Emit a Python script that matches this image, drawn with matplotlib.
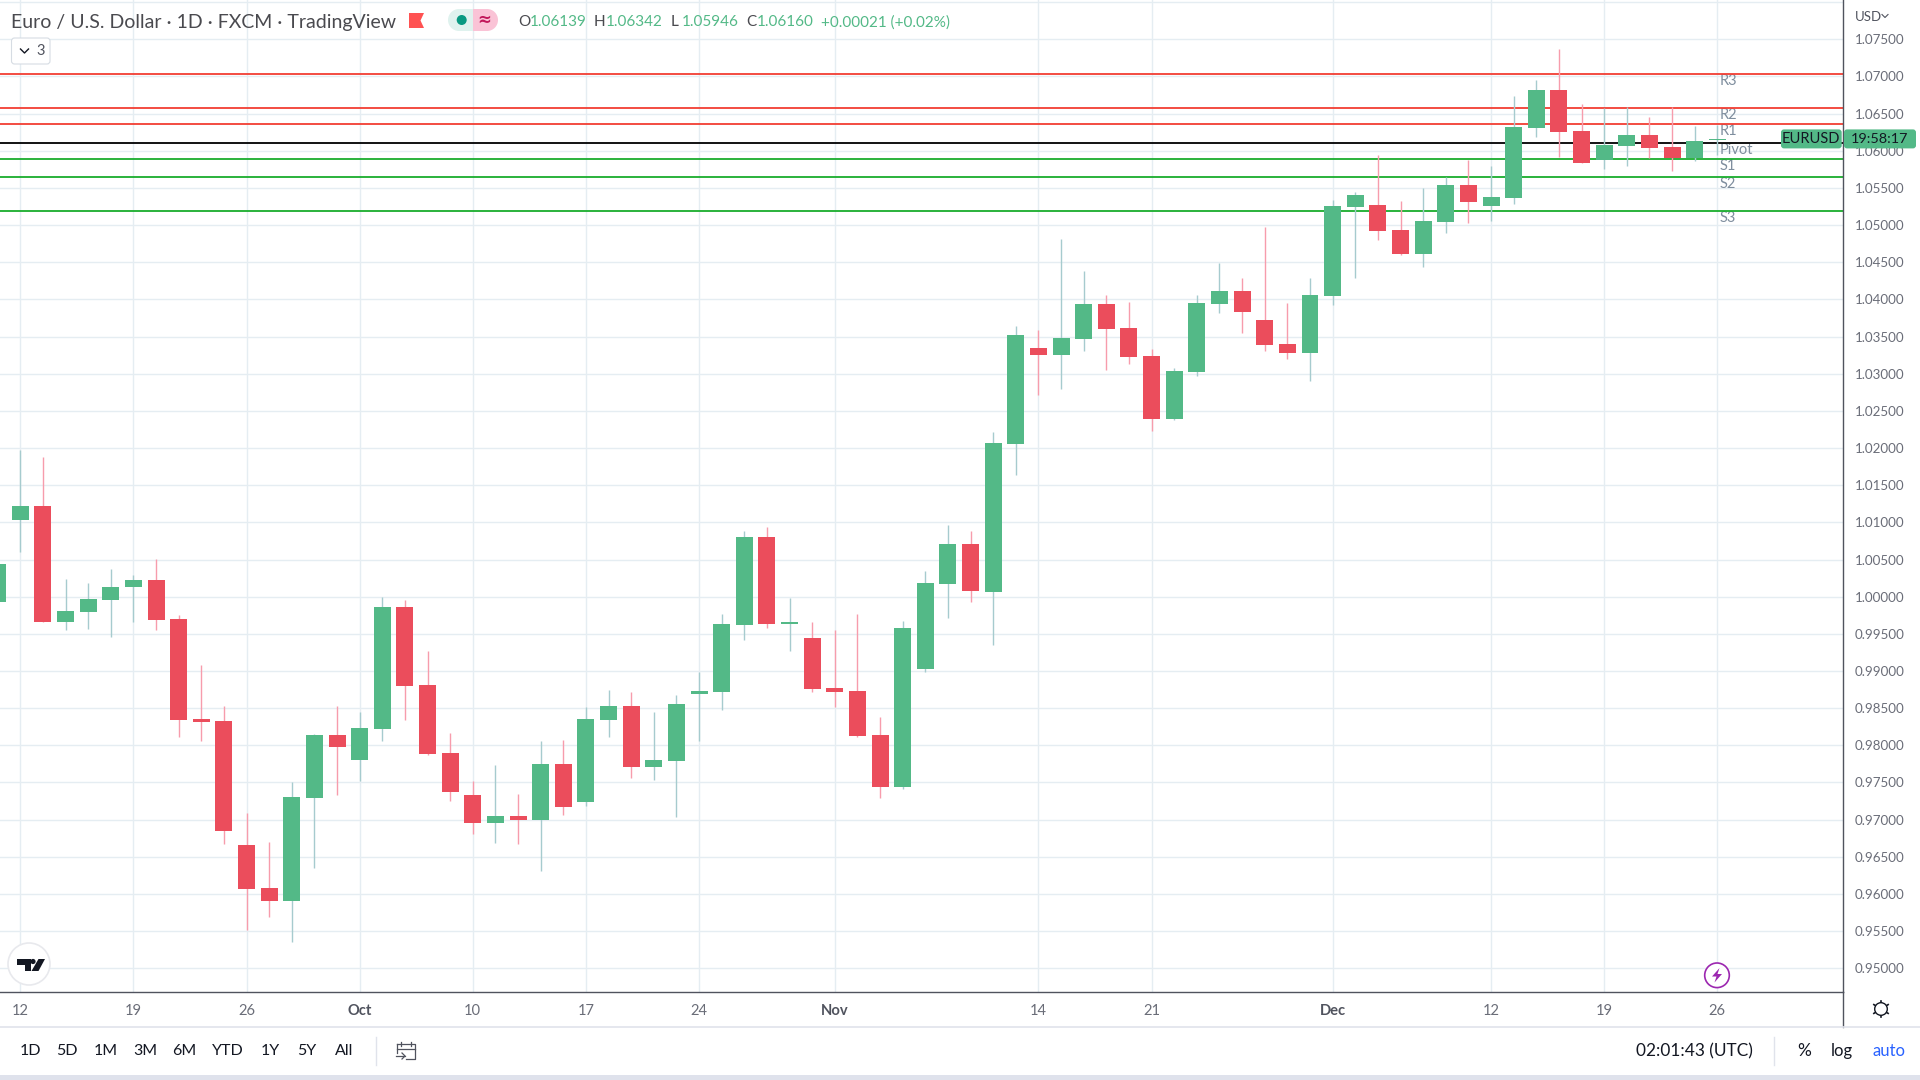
import matplotlib
matplotlib.use("Agg")
import matplotlib.pyplot as plt
from matplotlib.patches import Circle, FancyBboxPatch, Polygon, Rectangle

plt.rcParams['font.family'] = ['Lato', 'DejaVu Sans']

# Daily EUR/USD candles, first one is the bar cut off by the left edge
bar_index = list(range(-1, 76))
opens = [0.99926, 1.01033, 1.01221, 0.99656, 0.99791, 0.99953, 1.00128, 1.00223, 0.99697, 0.98361, 0.98334,
         0.96660, 0.96080, 0.95905, 0.97295, 0.98145, 0.97807, 0.98226, 0.99859, 0.98806, 0.97902, 0.97335,
         0.96957, 0.97050, 0.96996, 0.97751, 0.97238, 0.98345, 0.98534, 0.97711, 0.97792, 0.98696, 0.98723,
         0.99613, 1.00801, 0.99627, 0.99438, 0.98777, 0.98736, 0.98143, 0.97441, 0.99033, 1.00167, 1.00706,
         1.00066, 1.02049, 1.03345, 1.03250, 1.03466, 1.03939, 1.03615, 1.03237, 1.02387, 1.03021, 1.03939,
         1.04114, 1.03723, 1.03399, 1.03277, 1.04047, 1.05245, 1.05272, 1.04935, 1.04611, 1.05043, 1.05542,
         1.05259, 1.05367, 1.06311, 1.06824, 1.06271, 1.05880, 1.06069, 1.06217, 1.06055, 1.05907, 1.06139]
highs = [1.00439, 1.01977, 1.01883, 1.00236, 1.00182, 1.00371, 1.00290, 1.00506, 0.99751, 0.99076, 0.98523,
         0.97092, 0.96701, 0.97511, 0.98158, 0.98536, 0.98442, 0.99994, 0.99953, 0.99265, 0.98172, 0.97524,
         0.97740, 0.97346, 0.98062, 0.98075, 0.98520, 0.98750, 0.98723, 0.98453, 0.98682, 0.98993, 0.99762,
         1.00882, 1.00936, 0.99978, 0.99654, 0.99546, 0.99762, 0.98385, 0.99667, 1.00342, 1.00963, 1.00882,
         1.02211, 1.03642, 1.03588, 1.04816, 1.04384, 1.04060, 1.03966, 1.03331, 1.03075, 1.04060, 1.04492,
         1.04289, 1.04978, 1.03952, 1.04289, 1.05342, 1.05448, 1.05947, 1.05326, 1.05502, 1.05650, 1.05880,
         1.05799, 1.06743, 1.06959, 1.07364, 1.06635, 1.06581, 1.06595, 1.06460, 1.06595, 1.06338, 1.06342]
lows = [0.99926, 1.00605, 0.99656, 0.99548, 0.99562, 0.99454, 0.99656, 0.99548, 0.98118, 0.98064, 0.96674,
        0.95514, 0.95689, 0.95352, 0.96350, 0.97335, 0.97524, 0.98064, 0.98347, 0.97875, 0.97254, 0.96809,
        0.96687, 0.96672, 0.96307, 0.97063, 0.97184, 0.98116, 0.97562, 0.97535, 0.97036, 0.98062, 0.98480,
        0.99424, 0.99573, 0.99263, 0.98723, 0.98520, 0.98116, 0.97292, 0.97414, 0.98993, 0.99708, 0.99924,
        0.99351, 1.01631, 1.02711, 1.02792, 1.03304, 1.03048, 1.03129, 1.02225, 1.02373, 1.02967, 1.03817,
        1.03547, 1.03304, 1.03196, 1.02900, 1.03925, 1.04287, 1.04800, 1.04598, 1.04436, 1.04895, 1.05030,
        1.05057, 1.05286, 1.06190, 1.05920, 1.05839, 1.05758, 1.05799, 1.05907, 1.05731, 1.05866, 1.05946]
closes = [1.00439, 1.01221, 0.99656, 0.99805, 0.99967, 1.00128, 1.00223, 0.99683, 0.98347, 0.98320, 0.96849,
          0.96067, 0.95905, 0.97308, 0.98145, 0.97983, 0.98239, 0.99859, 0.98793, 0.97888, 0.97376, 0.96957,
          0.97052, 0.96996, 0.97751, 0.97171, 0.98358, 0.98534, 0.97711, 0.97805, 0.98561, 0.98736, 0.99627,
          1.00801, 0.99627, 0.99654, 0.98763, 0.98723, 0.98129, 0.97441, 0.99573, 1.00180, 1.00706, 1.00072,
          1.02063, 1.03520, 1.03250, 1.03480, 1.03939, 1.03601, 1.03223, 1.02387, 1.03035, 1.03952, 1.04114,
          1.03831, 1.03385, 1.03277, 1.04060, 1.05261, 1.05407, 1.04922, 1.04611, 1.05057, 1.05542, 1.05313,
          1.05380, 1.06325, 1.06824, 1.06258, 1.05839, 1.06082, 1.06217, 1.06042, 1.05907, 1.06136, 1.06160]

# Pivot levels
level_names = ['R3', 'R2', 'R1', 'Pivot', 'S1', 'S2', 'S3']
level_values = [1.07040, 1.06581, 1.06365, 1.06109, 1.05893, 1.05650, 1.05192]
level_colors = ['#f23e33', '#f23e33', '#f23e33', '#000000', '#19ad2c', '#19ad2c', '#19ad2c']

# Axis ticks, the top gridline (1.08) has no label in the picture
price_ticks = [0.95 + 0.005 * i for i in range(27)]
price_labels = ['%.5f' % p for p in price_ticks[:-1]] + ['']
date_ticks = [0, 5, 10, 15, 20, 25, 30, 36, 45, 50, 58, 65, 70, 75]
date_labels = ['12', '19', '26', 'Oct', '10', '17', '24', 'Nov', '14', '21', 'Dec', '12', '19', '26']
month_labels = ['Oct', 'Nov', 'Dec']

# Header and toolbar text
range_buttons = ['1D', '5D', '1M', '3M', '6M', 'YTD', '1Y', '5Y', 'All']
range_button_x = [30, 67, 106, 145, 184, 228, 270.5, 307, 344]
ohlc_names = ['O', 'H', 'L', 'C']
ohlc_name_x = [518, 594, 671, 746]
ohlc_values = ['1.06139', '1.06342', '1.05946', '1.06160']
ohlc_value_x = [530, 606, 682, 757]

UP = '#53b987'
DOWN = '#eb4d5c'
UP_WICK = '#a6cbce'
DOWN_WICK = '#f79cac'
GRID = '#e5edf2'
AXIS = '#50535e'
LABEL = '#6a6d78'
INK = '#131722'

W, H = 1920, 1080
AX_RIGHT, AX_BOTTOM = 1843.3, 992.3

fig = plt.figure(figsize=(19.2, 10.8), dpi=100, facecolor='white')
ax = fig.add_axes([0, 1 - AX_BOTTOM / H, AX_RIGHT / W, AX_BOTTOM / H])
ax.set_xlim(-0.897, 80.57)
ax.set_ylim(0.94677, 1.08029)

# gridlines
ax.set_axisbelow(True)
ax.set_yticks(price_ticks)
ax.set_yticklabels(price_labels)
ax.set_xticks(date_ticks)
ax.set_xticklabels(date_labels)
ax.grid(True, color=GRID, lw=1.0)
ax.yaxis.tick_right()
ax.tick_params(axis='y', length=0, pad=8.4, labelsize=9.6, labelcolor=LABEL)
ax.tick_params(axis='x', length=0, pad=8.3, labelsize=10.6, labelcolor=LABEL)
for lab in ax.get_xticklabels():
    if lab.get_text() in month_labels:
        lab.set_fontweight('bold')
        lab.set_color(AXIS)
for name in ['top', 'left']:
    ax.spines[name].set_visible(False)
for name in ['right', 'bottom']:
    ax.spines[name].set_color(AXIS)
    ax.spines[name].set_linewidth(1.0)

# level lines and their labels
for name, value, color in zip(level_names, level_values, level_colors):
    ax.annotate(name, (75, value), xytext=(2, 0), textcoords='offset points', fontsize=10.5, color='#7f8e9e',
                ha='left', va='top', zorder=2, annotation_clip=False)
    ax.axhline(value, color=color, lw=1.3, zorder=2.2)

# candles
for i, o, h, l, c in zip(bar_index, opens, highs, lows, closes):
    up = c >= o
    ax.vlines(i, l, h, color=UP_WICK if up else DOWN_WICK, lw=1.0, zorder=3)
    ax.bar(i, abs(c - o), bottom=min(o, c), width=0.751, color=UP if up else DOWN, lw=0, zorder=3.5)

# overlay in pixel coordinates for the TradingView furniture
ov = fig.add_axes([0, 0, 1, 1], facecolor='none')
ov.set_xlim(0, W)
ov.set_ylim(H, 0)
ov.axis('off')

# right axis line carries on through the time scale
ov.plot([AX_RIGHT, AX_RIGHT], [992, 1026.5], color=AXIS, lw=1.0)
ov.plot([0, W], [1026.7, 1026.7], color='#e0e3eb', lw=1.2)
ov.add_patch(Rectangle((0, 1075), W, 5, color='#dfe2ec', lw=0))
ov.plot([375.5, 375.5], [1037, 1065], color='#e0e3eb', lw=1.0)
ov.plot([1774, 1774], [1037, 1065], color='#e0e3eb', lw=1.0)

# header
ov.text(11, 22.5, 'Euro / U.S. Dollar · 1D · FXCM · TradingView', fontsize=14, color='#4a4a4f', va='center')
ov.add_patch(Polygon([(409, 13), (424, 13), (420.5, 20.5), (424, 28), (409, 28)], color='#ff5252', lw=0))
ov.add_patch(Circle((459, 20), 11, color='#dff2ee', lw=0))
ov.add_patch(Rectangle((459, 9), 14, 22, color='#dff2ee', lw=0))
ov.add_patch(Circle((487, 20), 11, color='#fac3d6', lw=0))
ov.add_patch(Rectangle((473, 9), 14, 22, color='#fac3d6', lw=0))
ov.add_patch(Circle((461.7, 20), 5, color='#089981', lw=0))
ov.text(484.5, 20, '≈', fontsize=12, color='#c2185b', ha='center', va='center', family='DejaVu Sans',
        fontweight='bold')
for name, x in zip(ohlc_names, ohlc_name_x):
    ov.text(x, 22.5, name, fontsize=11, color='#4a4a4f', va='center')
for value, x in zip(ohlc_values, ohlc_value_x):
    ov.text(x, 22.5, value, fontsize=11, color=UP, va='center')
ov.text(821, 22.5, '+0.00021 (+0.02%)', fontsize=11, color=UP, va='center')

# collapsed indicators button
ov.add_patch(FancyBboxPatch((11.5, 38), 38.5, 26, boxstyle='round,pad=0,rounding_size=3', fc='white',
                            ec='#d6dce3', lw=0.8))
ov.plot([20.5, 24.5, 28.5], [49, 53, 49], color=INK, lw=1.0)
ov.text(40.5, 51, '3', fontsize=10.5, color=AXIS, ha='center', va='center')

# currency menu
ov.text(1855, 17, 'USD', fontsize=9.5, color=AXIS, va='center')
ov.plot([1882, 1885, 1888], [14.5, 17.5, 14.5], color=AXIS, lw=0.8)

# last price tags, placed from the last close
last_y = ov.transData.inverted().transform(ax.transData.transform((0, closes[-1])))[1]
tag_top = last_y - 9.5
ov.add_patch(FancyBboxPatch((1781, tag_top), 60.7, 19, boxstyle='round,pad=0,rounding_size=3', color=UP, lw=0))
ov.add_patch(FancyBboxPatch((1844, tag_top), 72, 19, boxstyle='round,pad=0,rounding_size=3', color=UP, lw=0))
ov.text(1811, last_y + 0.5, 'EURUSD', fontsize=10.5, color=INK, ha='center', va='center')
ov.text(1880, last_y + 0.5, '19:58:17', fontsize=10.4, color=INK, ha='center', va='center')

# logo badge
ov.add_patch(Circle((29, 964), 21, fc='white', ec='#e8e9ed', lw=1.2))
ov.add_patch(Polygon([(16.5, 959), (30.5, 959), (30.5, 971), (25, 971), (25, 964.5), (16.5, 964.5)], color=INK, lw=0))
ov.add_patch(Circle((33, 961.5), 2.6, color=INK, lw=0))
ov.add_patch(Polygon([(38.5, 959), (45, 959), (38.5, 971), (31.5, 971)], color=INK, lw=0))

# lightning badge
ov.add_patch(Circle((1717, 975.3), 12.3, fc='white', ec='#9c27b0', lw=1.2))
ov.add_patch(Polygon([(1719.5, 968), (1712, 976.5), (1716.5, 976.5), (1714.5, 982.5), (1722, 974), (1717.5, 974)],
                     color='#9c27b0', lw=0))

# settings gear
ov.add_patch(Circle((1881, 1009), 6.3, fc='white', ec=INK, lw=1.0))
for dx, dy in [(0, -7.5), (0, 7.5), (-6.5, -4), (6.5, -4), (-6.5, 4), (6.5, 4)]:
    ov.plot([1881 + dx * 0.9, 1881 + dx * 1.1], [1009 + dy * 0.9, 1009 + dy * 1.1], color=INK, lw=1.2)

# toolbar
for label, x in zip(range_buttons, range_button_x):
    ov.text(x, 1051, label, fontsize=11.5, color=INK, ha='center', va='center')
ov.plot([397, 397], [1053, 1044], color=AXIS, lw=0.9)
ov.plot([397, 415, 415, 406], [1044, 1044, 1059, 1059], color=AXIS, lw=0.9)
ov.plot([397, 415], [1049, 1049], color=AXIS, lw=0.9)
ov.plot([401, 401], [1041.5, 1046], color=AXIS, lw=0.9)
ov.plot([411, 411], [1041.5, 1046], color=AXIS, lw=0.9)
ov.plot([396, 405], [1056, 1056], color=AXIS, lw=0.9)
ov.plot([402, 405, 402], [1053, 1056, 1059], color=AXIS, lw=0.9)
ov.text(1753, 1051, '02:01:43 (UTC)', fontsize=12.4, color=INK, ha='right', va='center')
ov.text(1804, 1051, '%', fontsize=12.5, color=INK, ha='center', va='center')
ov.text(1842, 1051, 'log', fontsize=12, color=INK, ha='center', va='center')
ov.text(1889, 1051, 'auto', fontsize=12, color='#2962ff', ha='center', va='center')

fig.savefig('out.png', dpi=100)
